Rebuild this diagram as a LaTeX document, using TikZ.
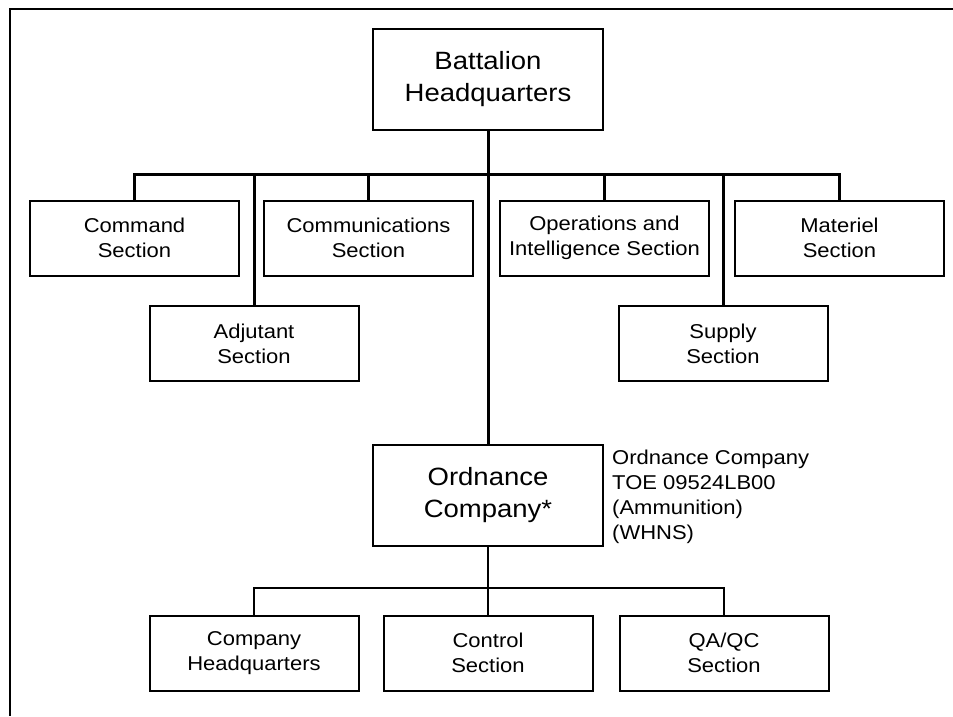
\documentclass[tikz,border=0pt]{standalone}
\usepackage{fontspec}
\setmainfont[FakeStretch=1.1]{Liberation Sans}
\begin{document}
\begin{tikzpicture}[x=1pt,y=-1pt,
  box/.style={draw=black, line width=2pt, minimum width=209pt, minimum height=75pt, align=center, inner sep=0pt, font=\fontsize{20}{25}\selectfont},
  bigbox/.style={box, minimum width=230pt, minimum height=101pt, font=\fontsize{25}{32}\selectfont},
  conn/.style={line width=2pt},
  thick bar/.style={line width=3pt},
  note/.style={align=left, anchor=north west, inner sep=0pt, font=\fontsize{20}{25}\selectfont}]
\useasboundingbox (0,0) rectangle (953,716);
\fill[white] (0,0) rectangle (953,716);
\draw[line width=2.5pt] (953,9) -- (10,9) -- (10,716);

\node[bigbox] (hq) at (488,79.5) {Battalion\\Headquarters};
\node[box] (cmd) at (134.5,238) {Command\\Section};
\node[box] (comm) at (368.5,238) {Communications\\Section};
\node[box] (ops) at (604.5,238) {Operations and\\Intelligence Section};
\node[box] (mat) at (839.5,238) {Materiel\\Section};
\node[box] (adj) at (254,343.5) {Adjutant\\Section};
\node[box] (sup) at (723,343.5) {Supply\\Section};
\node[bigbox] (ord) at (488,495) {Ordnance\\Company*};
\node[note] (lbl) at (612,449.5) {Ordnance Company\\TOE 09524LB00\\(Ammunition)\\(WHNS)};
\node[box] (chq) at (254,653) {Company\\Headquarters};
\node[box] (ctl) at (488,653) {Control\\Section};
\node[box] (qa) at (724,653) {QA/QC\\Section};

\coordinate (bar) at (488,174);
\coordinate (lbar) at (488,588);

\draw[thick bar] (cmd.north) -- (cmd.north |- bar) -- (mat.north |- bar) -- (mat.north);
\draw[thick bar] (hq.south) -- (ord.north);
\draw[thick bar] (adj.north) -- (adj.north |- bar);
\draw[thick bar] (comm.north) -- (comm.north |- bar);
\draw[thick bar] (ops.north) -- (ops.north |- bar);
\draw[thick bar] (sup.north) -- (sup.north |- bar);

\draw[conn] (ord.south) -- (ctl.north);
\draw[conn] (chq.north) |- (lbar) -| (qa.north);
\end{tikzpicture}
\end{document}
